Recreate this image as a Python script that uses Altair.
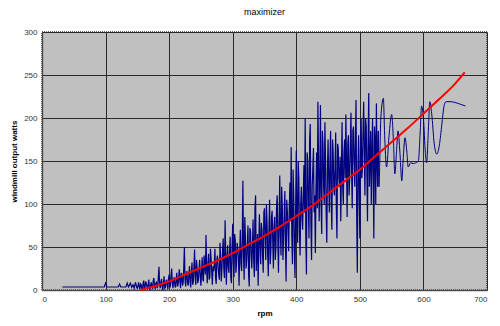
import altair as alt
import pandas as pd

flat_rpm = [32, 98, 100, 102, 120, 122, 124, 132, 134, 136, 139, 141, 143, 145, 147, 149]
flat_w = [3.5, 3.5, 8, 3.5, 3.5, 7, 3.5, 3.5, 8, 3.5, 8, 3, 6, 2, 9, 3]

even_rpm = [
    150, 152, 154, 156, 158, 160, 162, 164, 166, 168,
    170, 172, 174, 176, 178, 180, 182, 184, 186, 188,
    190, 192, 194, 196, 198, 200, 202, 204, 206, 208,
    210, 212, 214, 216, 218, 220, 222, 224, 226, 228,
    230, 232, 234, 236, 238, 240, 242, 244, 246, 248,
    250, 252, 254, 256, 258, 260, 262, 264, 266, 268,
    270, 272, 274, 276, 278, 280, 282, 284, 286, 288,
    290, 292, 294, 296, 298, 300, 302, 304, 306, 308,
    310, 312, 314, 316, 318, 320, 322, 324, 326, 328,
    330, 332, 334, 336, 338, 340, 342, 344, 346, 348,
    350, 352, 354, 356, 358, 360, 362, 364, 366, 368,
    370, 372, 374, 376, 378, 380, 382, 384, 386, 388,
    390, 392, 394, 396, 398, 400, 402, 404, 406, 408,
    410, 412, 414, 416, 418, 420, 422, 424, 426, 428,
    430, 432, 434, 436, 438, 440, 442, 444, 446, 448,
    450, 452, 454, 456, 458, 460, 462, 464, 466, 468,
    470, 472, 474, 476, 478, 480, 482, 484, 486, 488,
    490, 492, 494, 496, 498, 500, 502, 504, 506, 508,
    510, 512, 514, 516, 518, 520, 522, 524, 526, 528,
]
even_w = [
    2, 9, 1, 6, 0, 11, 3, 8, 1, 12,
    0, 9, 2, 14, 1, 10, 4, 27, 2, 13,
    0, 16, 3, 12, 1, 18, 5, 25, 2, 15,
    3, 20, 6, 24, 2, 17, 8, 50, 4, 22,
    5, 28, 3, 32, 9, 47, 6, 26, 12, 35,
    5, 38, 10, 30, 64, 8, 42, 15, 36, 6,
    22, 48, 7, 40, 18, 55, 10, 45, 25, 81,
    6, 52, 20, 62, 8, 77, 15, 58, 30, 48,
    5, 70, 22, 127, 12, 60, 35, 75, 4, 68,
    25, 82, 15, 110, 40, 5, 88, 30, 70, 20,
    95, 35, 80, 16, 105, 45, 92, 25, 85, 50,
    110, 20, 133, 40, 98, 60, 115, 10, 90, 45,
    125, 166, 30, 110, 14, 162, 55, 130, 40, 120,
    70, 145, 200, 18, 150, 60, 193, 35, 140, 90,
    43, 160, 219, 80, 215, 65, 170, 100, 150, 55,
    175, 90, 185, 70, 160, 110, 183, 60, 165, 120,
    80, 195, 100, 175, 204, 85, 180, 130, 206, 95,
    190, 120, 221, 20, 180, 60, 200, 140, 219, 110,
    190, 80, 229, 150, 100, 200, 60, 175, 217, 120,
]

odd_rpm = [
    151, 153, 155, 157, 159, 161, 163, 165, 167, 169,
    171, 173, 175, 177, 179, 181, 183, 185, 187, 189,
    191, 193, 195, 197, 199, 201, 203, 205, 207, 209,
    211, 213, 215, 217, 219, 221, 223, 225, 227, 229,
    231, 233, 235, 237, 239, 241, 243, 245, 247, 249,
    251, 253, 255, 257, 259, 261, 263, 265, 267, 269,
    271, 273, 275, 277, 279, 281, 283, 285, 287, 289,
    291, 293, 295, 297, 299, 301, 303, 305, 307, 309,
    311, 313, 315, 317, 319, 321, 323, 325, 327, 329,
    331, 333, 335, 337, 339, 341, 343, 345, 347, 349,
    351, 353, 355, 357, 359, 361, 363, 365, 367, 369,
    371, 373, 375, 377, 379, 381, 383, 385, 387, 389,
    391, 393, 395, 397, 399, 401, 403, 405, 407, 409,
    411, 413, 415, 417, 419, 421, 423, 425, 427, 429,
    431, 433, 435, 437, 439, 441, 443, 445, 447, 449,
    451, 453, 455, 457, 459, 461, 463, 465, 467, 469,
    471, 473, 475, 477, 479, 481, 483, 485, 487, 489,
    491, 493, 495, 497, 499, 501, 503, 505, 507, 509,
    511, 513, 515, 517, 519, 521, 523, 525, 527, 529,
]
odd_w = [
    5, 3, 7, 2, 8, 1, 10, 4, 6, 2,
    6, 3, 11, 5, 7, 2, 15, 6, 9, 4,
    8, 2, 10, 5, 13, 3, 17, 7, 11, 5,
    12, 4, 15, 9, 20, 5, 26, 12, 18, 8,
    18, 10, 22, 6, 27, 14, 35, 8, 24, 15,
    22, 12, 40, 18, 25, 30, 12, 48, 20, 28,
    30, 15, 35, 28, 12, 38, 24, 60, 14, 40,
    35, 25, 44, 14, 50, 32, 65, 20, 55, 38,
    45, 30, 60, 40, 85, 25, 55, 18, 72, 42,
    50, 35, 95, 22, 65, 48, 55, 78, 40, 90,
    60, 100, 42, 70, 30, 85, 55, 75, 35, 98,
    55, 80, 65, 120, 35, 88, 50, 105, 70, 95,
    80, 60, 140, 45, 95, 75, 150, 65, 100, 85,
    110, 90, 60, 160, 100, 175, 80, 120, 165, 110,
    120, 95, 150, 130, 100, 185, 120, 195, 90, 140,
    130, 150, 100, 175, 120, 145, 95, 170, 130, 155,
    140, 120, 160, 130, 150, 170, 110, 165, 140, 185,
    150, 175, 90, 140, 110, 170, 130, 185, 160, 200,
    140, 175, 120, 185, 160, 130, 190, 100, 150, 185,
]

right_rpm = [529, 530, 533, 537, 539, 542, 546, 550, 553, 555, 558,
             560, 563, 566, 568, 571, 574, 576, 580, 584, 588,
             592, 595, 597, 600, 603, 605, 608, 610, 613, 617,
             621, 625, 629, 632, 634, 637, 642, 650, 658, 666]
right_w = [185, 120, 200, 223, 180, 143, 180, 204, 170, 135, 165,
           185, 160, 127, 150, 177, 160, 143, 148, 147, 148,
           150, 185, 214, 200, 160, 148, 190, 219, 205, 170,
           158, 168, 193, 212, 218, 219, 219, 218, 216, 214]

# ---- red trend curve ----
red_rpm = [155, 175, 200, 225, 250, 275, 300, 325, 350, 375, 400,
           425, 450, 475, 500, 525, 550, 575, 600, 625, 650, 665]
red_w = [0, 4, 10, 18, 26, 34, 43, 53, 63, 74, 86,
         98, 112, 126, 140, 156, 172, 188, 205, 222, 240, 253]

x_ticks = [0, 100, 200, 300, 400, 500, 600, 700]
y_ticks = [0, 50, 100, 150, 200, 250, 300]

noisy = pd.DataFrame({
    "rpm": flat_rpm + even_rpm + odd_rpm,
    "watts": flat_w + even_w + odd_w,
}).sort_values("rpm").reset_index(drop=True)
smooth = pd.DataFrame({"rpm": right_rpm, "watts": right_w})
red = pd.DataFrame({"rpm": red_rpm, "watts": red_w})

x_enc = alt.X("rpm:Q", scale=alt.Scale(domain=[0, 700], nice=False),
              axis=alt.Axis(values=x_ticks, title="rpm"))
y_enc = alt.Y("watts:Q", scale=alt.Scale(domain=[0, 300], nice=False),
              axis=alt.Axis(values=y_ticks, title="windmill output watts"))

noisy_line = alt.Chart(noisy).mark_line(
    color="#000080", strokeWidth=1.2, clip=True
).encode(x=x_enc, y=y_enc)

smooth_line = alt.Chart(smooth).mark_line(
    color="#000080", strokeWidth=1, interpolate="monotone", clip=True
).encode(x="rpm:Q", y="watts:Q")

red_line = alt.Chart(red).mark_line(
    color="#FF0000", strokeWidth=2, interpolate="monotone"
).encode(x="rpm:Q", y="watts:Q")

chart = alt.layer(noisy_line, smooth_line, red_line).properties(
    width=445,
    height=258,
    title=alt.TitleParams("maximizer", fontSize=9, font="Liberation Sans",
                          fontWeight="normal", color="#000", offset=11,
                          anchor="middle"),
    padding={"left": 34, "top": 24, "right": 5, "bottom": 28},
    autosize=alt.AutoSizeParams(type="none"),
).configure_view(
    fill="#C0C0C0", stroke="#666", strokeDash=[1, 1], strokeWidth=2
).configure_axis(
    grid=True, gridColor="#2a2a2a", gridWidth=1, gridOpacity=1,
    ticks=False, domain=True, domainColor="#666", domainDash=[1, 1], domainWidth=2,
    labelFont="Liberation Sans", labelFontSize=8, labelColor="#333",
    labelPadding=5,
    titleFont="Liberation Sans", titleFontSize=8, titleFontWeight="bold",
    titleColor="#000",
).configure_axisY(titlePadding=5).configure_axisX(titlePadding=6)

chart.save("out.html", embed_options={"renderer": "svg", "actions": False})
